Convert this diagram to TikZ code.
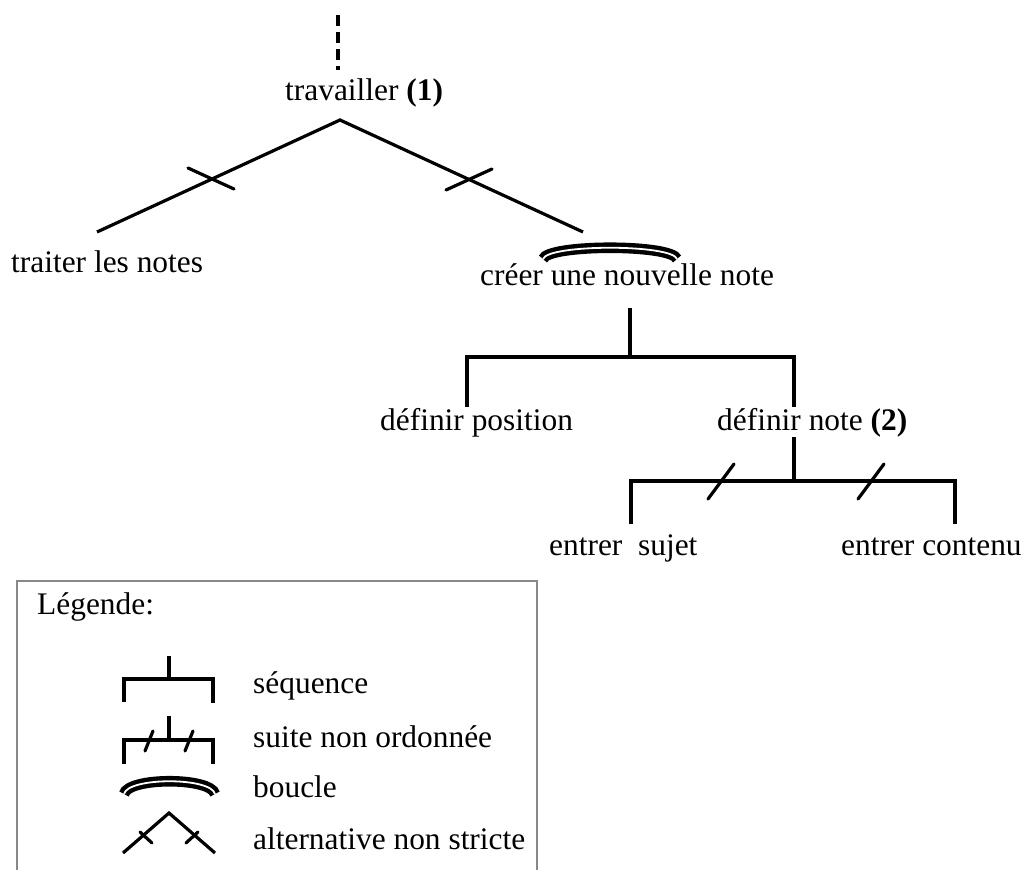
\documentclass[tikz,border=0pt]{standalone}
\usepackage{fontspec}
\setmainfont{Liberation Serif}
\usetikzlibrary{calc}
\newcommand\diagfont{\fontsize{31.4}{36}\selectfont}
\definecolor{boxgray}{RGB}{136,136,136}
\begin{document}
\begin{tikzpicture}[x=1pt,y=-1pt,
  lab/.style={anchor=base west, inner sep=0pt, font=\diagfont},
  conn/.style={line width=3.2pt},
  tick/.style={line width=3.2pt, line cap=round},
  dashconn/.style={line width=3.2pt, dash pattern=on 11pt off 6pt},
  loopline/.style={line width=4.4pt, double, double distance=1.8pt},
  legbox/.style={draw=boxgray, line width=2pt}]
\useasboundingbox (0,0) rectangle (1029,870);
% ---------- texts ----------
\node[lab] (trav) at (285,100) {travailler \textbf{(1)}};
\node[lab] (trait) at (11,272) {traiter les notes};
\node[lab] (creer) at (480,285) {créer une nouvelle note};
\node[lab] (defpos) at (380,430) {définir position};
\node[lab] (defnote) at (717,430) {définir note \textbf{(2)}};
\node[lab] (sujet) at (549,555) {entrer\ \ sujet};
\node[lab] (contenu) at (841,555) {entrer contenu};
% ---------- junction coordinates ----------
\coordinate (dtop) at (338,15);
\coordinate (dbot) at (338,70);
\coordinate (apex) at (340,120);
\coordinate (lend) at (97,232);
\coordinate (rend) at (583,232);
\coordinate (c1) at (212,179);
\coordinate (c2) at (468,180);
\coordinate (s1top) at (630,308);
\coordinate (s1mid) at (630,357);
\coordinate (s1l) at (467,357);
\coordinate (s1r) at (794,357);
\coordinate (s1lb) at (467,407);
\coordinate (s1rb) at (794,407);
\coordinate (s2top) at (794,437);
\coordinate (s2mid) at (794,481);
\coordinate (s2l) at (631,481);
\coordinate (s2r) at (955,481);
\coordinate (s2lb) at (631,524);
\coordinate (s2rb) at (955,524);
% ---------- tree ----------
\draw[dashconn] (dtop) -- (dbot);
\draw[conn] (lend) -- (apex) -- (rend);
\draw[tick] ($(c1)+(-24,-11)$) -- ($(c1)+(22,10)$);
\draw[tick] ($(c2)+(-22,10)$) -- ($(c2)+(24,-11)$);
\draw[loopline] (543,259) .. controls (548,244) and (672,244) .. (677,259);
\draw[conn] (s1top) -- (s1mid);
\draw[conn] (s1lb) -- (s1l) -- (s1r) -- (s1rb);
\draw[conn] (s2top) -- (s2mid);
\draw[conn] (s2lb) -- (s2l) -- (s2r) -- (s2rb);
\draw[tick] (708,499) -- (734,464);
\draw[tick] (858,499) -- (884,464);
% ---------- legend ----------
\draw[legbox] (17,875) -- (17,581) -- (537,581) -- (537,875);
\node[lab] (legt) at (37,614) {Légende:};
\node[lab] (lseq) at (253,693) {séquence};
\node[lab] (lsuite) at (253,747) {suite non ordonnée};
\node[lab] (lboucle) at (253,797) {boucle};
\node[lab] (lalt) at (253,849) {alternative non stricte};
% sequence symbol
\draw[conn] (169,656) -- (169,679);
\draw[conn] (124,702) -- (124,679) -- (213,679) -- (213,703);
% suite symbol
\draw[conn] (169,716) -- (169,740);
\draw[conn] (124,764) -- (124,740) -- (213,740) -- (213,764);
\draw[tick] (145,751) -- (153,731);
\draw[tick] (185,751) -- (193,731);
% boucle symbol
\draw[loopline] (124,794) .. controls (128,777) and (211,777) .. (215,794);
% alternative symbol
\draw[conn] (123,853) -- (169,813) -- (215,853);
\draw[tick] (140,832) -- (152,843);
\draw[tick] (186,843) -- (198,832);
\end{tikzpicture}
\end{document}
